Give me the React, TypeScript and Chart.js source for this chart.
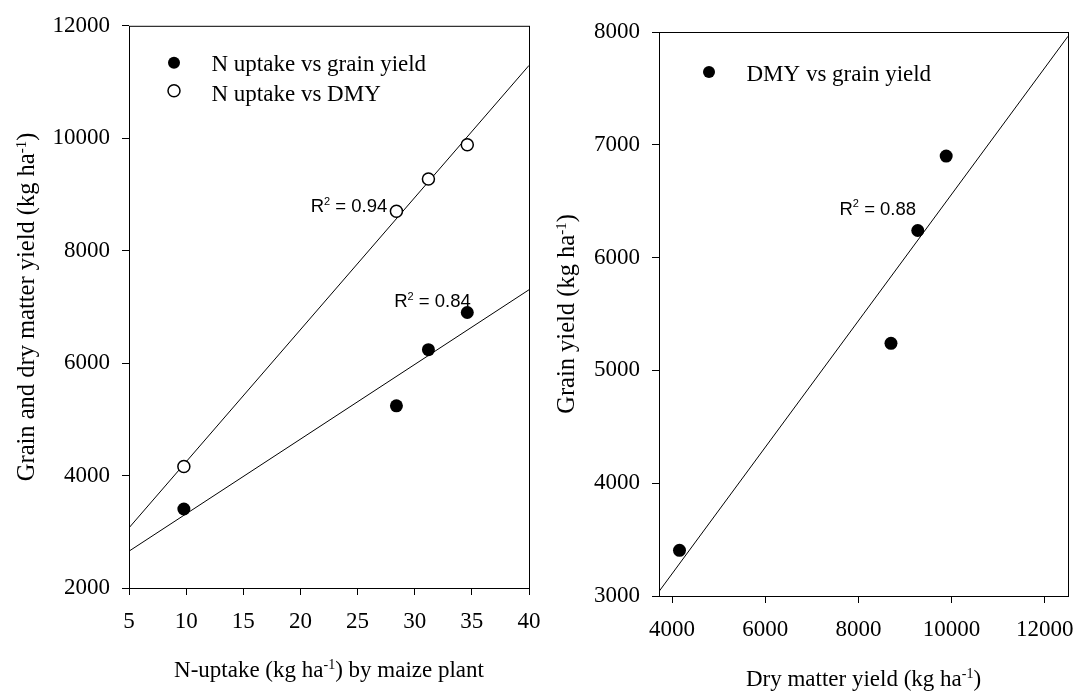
import React, { useEffect, useRef } from "react";
import { Chart, registerables } from "chart.js";
Chart.register(...registerables);

// ---- data ----
const nUptake = [9.8, 28.4, 31.2, 34.6];
const grainYield = [3405, 5240, 6240, 6900];
const dryMatterYield = [4160, 8700, 9275, 9885];

// fitted regression lines (end points)
const fitNGrainX = [5, 40];
const fitNGrainY = [2655, 7305];
const fitNDmyX = [5, 40];
const fitNDmyY = [3070, 11295];
const fitDmyGrainX = [3720, 12500];
const fitDmyGrainY = [3040, 7962];

const leftXTicks = [5, 10, 15, 20, 25, 30, 35, 40];
const leftYTicks = [2000, 4000, 6000, 8000, 10000, 12000];
const rightXTicks = [4000, 6000, 8000, 10000, 12000];
const rightYTicks = [3000, 4000, 5000, 6000, 7000, 8000];

const leftLegend = ["N uptake vs grain yield", "N uptake vs DMY"];
const rightLegend = ["DMY vs grain yield"];
const r2Values = ["0.94", "0.84", "0.88"];

const SERIF = "'Liberation Serif', 'Times New Roman', serif";
const SANS = "'Liberation Sans', Arial, sans-serif";

type Part = { t: string; sup?: boolean };

function drawRich(
  ctx: CanvasRenderingContext2D,
  parts: Part[],
  x: number,
  y: number,
  align: "left" | "center" | "right",
  font: string,
  supFont: string,
  supRise: number
) {
  let total = 0;
  const widths = parts.map((p) => {
    ctx.font = p.sup ? supFont : font;
    const w = ctx.measureText(p.t).width;
    total += w;
    return w;
  });
  let cx = align === "left" ? x : align === "center" ? x - total / 2 : x - total;
  ctx.textAlign = "left";
  ctx.textBaseline = "alphabetic";
  parts.forEach((p, i) => {
    ctx.font = p.sup ? supFont : font;
    ctx.fillText(p.t, cx, p.sup ? y - supRise : y);
    cx += widths[i];
  });
}

function scaleCfg(min: number, max: number, ticks: number[], size: number, horizontal: boolean) {
  return {
    type: "linear",
    min,
    max,
    afterBuildTicks: (s: any) => {
      s.ticks = ticks.map((v) => ({ value: v }));
    },
    afterFit: (s: any) => {
      if (horizontal) s.height = size;
      else s.width = size;
    },
    grid: { drawOnChartArea: false, drawTicks: true, tickLength: 7, color: "#000", lineWidth: 1 },
    border: { display: false },
    ticks: {
      font: { family: SERIF, size: 23 },
      color: "#000",
      padding: horizontal ? 13 : 12,
      autoSkip: false,
      maxRotation: 0,
      callback: (v: any) => String(v),
    },
    title: { display: false },
  };
}

type Annot = { x: number; y: number; align: "left" | "right"; value: string };
type LegendItem = { label: string; filled: boolean };

interface Extra {
  legend: LegendItem[];
  legendDx: number;
  legendDy: number;
  annots: Annot[];
  xTitle: Part[];
  xTitleY: number;
  yTitle: Part[];
  yTitleX: number;
}

function makePlugin(extra: Extra) {
  return {
    id: "decor",
    afterDraw(chart: any) {
      const ctx: CanvasRenderingContext2D = chart.ctx;
      const a = chart.chartArea;
      const xs = chart.scales.x;
      const ys = chart.scales.y;
      ctx.save();
      // frame
      ctx.strokeStyle = "#000";
      ctx.lineWidth = 1;
      ctx.strokeRect(a.left + 0.5, a.top + 0.5, a.right - a.left, a.bottom - a.top);
      // legend
      extra.legend.forEach((it, i) => {
        const mx = a.left + extra.legendDx;
        const my = a.top + extra.legendDy + i * 28;
        const ty = a.top + extra.legendDy + 8.5 + i * 30;
        ctx.beginPath();
        ctx.arc(mx, my, 6, 0, Math.PI * 2);
        if (it.filled) {
          ctx.fillStyle = "#000";
          ctx.fill();
        } else {
          ctx.fillStyle = "#fff";
          ctx.fill();
          ctx.lineWidth = 1.5;
          ctx.strokeStyle = "#000";
          ctx.stroke();
        }
        ctx.fillStyle = "#000";
        ctx.font = `23px ${SERIF}`;
        ctx.textAlign = "left";
        ctx.textBaseline = "alphabetic";
        ctx.fillText(it.label, mx + 37.5, ty);
      });
      // R^2 annotations
      ctx.fillStyle = "#000";
      extra.annots.forEach((an) => {
        const px = xs.getPixelForValue(an.x);
        const py = ys.getPixelForValue(an.y);
        drawRich(
          ctx,
          [{ t: "R" }, { t: "2", sup: true }, { t: " = " + an.value }],
          px,
          py,
          an.align,
          `18.5px ${SANS}`,
          `11px ${SANS}`,
          7.5
        );
      });
      // axis titles
      const cxm = (a.left + a.right) / 2;
      drawRich(ctx, extra.xTitle, cxm, extra.xTitleY, "center", `23px ${SERIF}`, `14px ${SERIF}`, 8);
      const cym = (a.top + a.bottom) / 2;
      ctx.translate(extra.yTitleX, cym);
      ctx.rotate(-Math.PI / 2);
      drawRich(ctx, extra.yTitle, 0, 0, "center", `24.5px ${SERIF}`, `15px ${SERIF}`, 8.5);
      ctx.restore();
    },
  };
}

function pts(xs: number[], ys: number[]) {
  return xs.map((x, i) => ({ x, y: ys[i] }));
}

const filledStyle = {
  pointRadius: 6.5,
  pointBackgroundColor: "#000",
  pointBorderColor: "#000",
  pointBorderWidth: 0,
  showLine: false,
};
const openStyle = {
  pointRadius: 6,
  pointBackgroundColor: "#fff",
  pointBorderColor: "#000",
  pointBorderWidth: 1.5,
  showLine: false,
};
const fitStyle = {
  showLine: true,
  pointRadius: 0,
  borderColor: "#000",
  borderWidth: 1,
  fill: false,
};

function LeftChart() {
  const ref = useRef<HTMLCanvasElement>(null);
  useEffect(() => {
    const chart = new Chart(ref.current as HTMLCanvasElement, {
      type: "scatter",
      data: {
        datasets: [
          { label: leftLegend[1], data: pts(nUptake, dryMatterYield), ...openStyle },
          { label: leftLegend[0], data: pts(nUptake, grainYield), ...filledStyle },
          { label: "fit DMY", data: pts(fitNDmyX, fitNDmyY), ...fitStyle },
          { label: "fit grain", data: pts(fitNGrainX, fitNGrainY), ...fitStyle },
        ] as any,
      },
      options: {
        animation: false,
        responsive: false,
        layout: { padding: { left: 0, top: 23, right: 31, bottom: 0 } },
        scales: {
          x: scaleCfg(5, 40, leftXTicks, 104, true) as any,
          y: scaleCfg(2000, 12000, leftYTicks, 129, false) as any,
        },
        plugins: { legend: { display: false }, tooltip: { enabled: false } },
      },
      plugins: [
        makePlugin({
          legend: [
            { label: leftLegend[0], filled: true },
            { label: leftLegend[1], filled: false },
          ],
          legendDx: 45,
          legendDy: 37,
          annots: [
            { x: 27.6, y: 8680, align: "right", value: r2Values[0] },
            { x: 28.2, y: 6990, align: "left", value: r2Values[1] },
          ],
          xTitle: [{ t: "N-uptake (kg ha" }, { t: "-1", sup: true }, { t: ") by maize plant" }],
          xTitleY: 677,
          yTitle: [{ t: "Grain and dry matter yield (kg ha" }, { t: "-1", sup: true }, { t: ")" }],
          yTitleX: 34,
        }),
      ],
    });
    return () => chart.destroy();
  }, []);
  return <canvas ref={ref} width={560} height={692} style={{ position: "absolute", left: 0, top: 0 }} />;
}

function RightChart() {
  const ref = useRef<HTMLCanvasElement>(null);
  useEffect(() => {
    const chart = new Chart(ref.current as HTMLCanvasElement, {
      type: "scatter",
      data: {
        datasets: [
          { label: rightLegend[0], data: pts(dryMatterYield, grainYield), ...filledStyle },
          { label: "fit", data: pts(fitDmyGrainX, fitDmyGrainY), ...fitStyle },
        ] as any,
      },
      options: {
        animation: false,
        responsive: false,
        layout: { padding: { left: 0, top: 32, right: 28, bottom: 0 } },
        scales: {
          x: scaleCfg(3720, 12500, rightXTicks, 96, true) as any,
          y: scaleCfg(3000, 8000, rightYTicks, 119, false) as any,
        },
        plugins: { legend: { display: false }, tooltip: { enabled: false } },
      },
      plugins: [
        makePlugin({
          legend: [{ label: rightLegend[0], filled: true }],
          legendDx: 50,
          legendDy: 40,
          annots: [{ x: 7595, y: 6381, align: "left", value: r2Values[2] }],
          xTitle: [{ t: "Dry matter yield (kg ha" }, { t: "-1", sup: true }, { t: ")" }],
          xTitleY: 686,
          yTitle: [{ t: "Grain yield (kg ha" }, { t: "-1", sup: true }, { t: ")" }],
          yTitleX: 34,
        }),
      ],
    });
    return () => chart.destroy();
  }, []);
  return <canvas ref={ref} width={556} height={692} style={{ position: "absolute", left: 540, top: 0 }} />;
}

export default function App() {
  return (
    <div
      style={{
        position: "fixed",
        left: 0,
        top: 0,
        width: 1076,
        height: 692,
        overflow: "hidden",
        background: "#fff",
      }}
    >
      <LeftChart />
      <RightChart />
    </div>
  );
}
